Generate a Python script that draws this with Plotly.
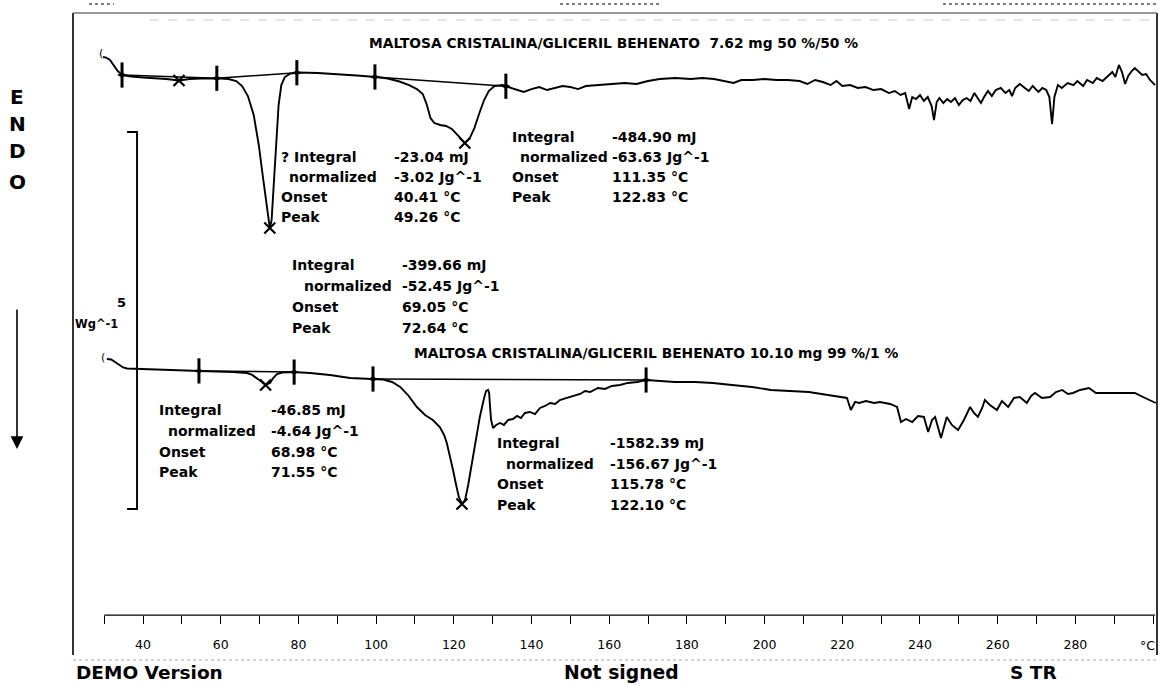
import numpy as np
import plotly.graph_objects as go

W, H = 1160, 685

# ---- DSC run 1: MALTOSA CRISTALINA/GLICERIL BEHENATO 7.62 mg 50 %/50 % ----
# temperature (°C) and heat flow (W/g, relative to its own start baseline)
top_temp = [29.7, 30.5, 31.5, 32.5, 33.5, 34.6, 37, 40, 43, 46,
            49.26, 52, 55, 58, 60, 62, 64, 65.5, 67, 68.5,
            69.8, 70.8, 71.6, 72.2, 72.64, 73.1, 73.6, 74.2, 74.9, 75.6,
            76.5, 78, 80, 85, 90, 95, 100, 103, 106, 108.5,
            110.5, 112, 113, 114, 115, 116.5, 118, 119.5, 121, 122.83,
            124, 125.3, 126.5, 127.8, 129, 130.5, 132.5, 134, 136, 138,
            140, 142, 144, 146, 148, 150, 152, 154, 157, 160,
            164, 167, 170, 173, 177, 181, 184, 187, 190, 192,
            194, 197, 200, 203, 206, 209, 211, 213, 215, 217,
            218.5, 220, 222, 224, 226, 228, 230, 232, 233.5, 235,
            236.2, 237.2, 238, 239, 240, 241, 242, 243, 243.6, 244.3,
            245, 246, 247, 248, 249, 250, 251, 252, 253, 254,
            255, 255.7, 256.5, 257.5, 258.5, 259.5, 260.8, 262, 263, 263.7,
            264.5, 265.7, 267, 268, 269, 270.5, 271.5, 272.5, 273.3, 274,
            274.6, 275.5, 276.5, 278, 279.5, 280.5, 282, 283, 284.5, 285.5,
            287, 288.5, 289.5, 290.3, 291.2, 292, 292.8, 293.6, 294.5, 295.3,
            296.3, 297.2, 298.2, 299.2, 300.5]
top_hf = [0.239, 0.232, 0.199, 0.133, 0.053, 0.0, -0.020, -0.033, -0.040, -0.053,
          -0.073, -0.053, -0.046, -0.040, -0.046, -0.053, -0.080, -0.146, -0.279, -0.531,
          -0.928, -1.326, -1.658, -1.897, -2.029, -1.923, -1.525, -0.928, -0.398, -0.133,
          -0.027, 0.020, 0.033, 0.027, 0.013, -0.007, -0.027, -0.046, -0.086, -0.133,
          -0.186, -0.252, -0.385, -0.570, -0.637, -0.663, -0.676, -0.716, -0.796, -0.902,
          -0.849, -0.703, -0.517, -0.332, -0.212, -0.146, -0.133, -0.159, -0.199, -0.225,
          -0.186, -0.159, -0.199, -0.172, -0.146, -0.159, -0.186, -0.146, -0.133, -0.119,
          -0.106, -0.119, -0.080, -0.053, -0.040, -0.053, -0.040, -0.053, -0.080, -0.106,
          -0.066, -0.066, -0.053, -0.066, -0.066, -0.080, -0.119, -0.066, -0.093, -0.133,
          -0.080, -0.146, -0.133, -0.172, -0.159, -0.199, -0.186, -0.239, -0.212, -0.265,
          -0.239, -0.451, -0.292, -0.318, -0.265, -0.345, -0.292, -0.411, -0.597, -0.358,
          -0.305, -0.371, -0.318, -0.358, -0.305, -0.398, -0.332, -0.305, -0.345, -0.239,
          -0.318, -0.371, -0.292, -0.212, -0.279, -0.199, -0.172, -0.239, -0.199, -0.279,
          -0.172, -0.119, -0.172, -0.212, -0.146, -0.225, -0.172, -0.199, -0.292, -0.650,
          -0.292, -0.133, -0.172, -0.106, -0.133, -0.080, -0.146, -0.066, -0.106, -0.040,
          -0.080, 0.0, 0.040, -0.027, 0.133, 0.040, -0.119, -0.013, 0.053, 0.093,
          0.040, 0.0, 0.013, -0.066, -0.133]
top_limits = [(34.6, 59.0), (59.0, 79.6), (99.7, 133.4)]
top_peaks = [49.26, 72.64, 122.83]

# ---- DSC run 2: MALTOSA CRISTALINA/GLICERIL BEHENATO 10.10 mg 99 %/1 % ----
bot_temp = [30.7, 31.8, 32.8, 33.8, 34.9, 35.9, 41.3, 48.2, 54.7, 63.2,
            66.8, 68.1, 69.3, 70.6, 71.55, 72.7, 73.5, 74.5, 75.8, 78.6,
            83, 88.1, 93.3, 97.1, 98.9, 101.8, 104.1, 106.2, 108.2, 110.5,
            112.6, 114.6, 116.4, 117.5, 118.2, 119, 119.8, 120.6, 121.3, 122.1,
            122.9, 123.7, 124.7, 125.7, 126.7, 127.8, 128.3, 128.8, 129.1, 129.3,
            129.6, 130.1, 130.9, 131.9, 132.9, 134, 135.2, 136.3, 137.3, 138.3,
            139.6, 140.9, 142.2, 143.5, 144.8, 146.1, 147.3, 149.1, 150.7, 152.5,
            153.8, 155.1, 157.1, 158.9, 160.7, 162.8, 164.8, 167.2, 169.5, 173.1,
            176.9, 182.1, 186.7, 191.6, 196.8, 201.6, 206.5, 211.4, 216.3, 219.4,
            221.2, 222.2, 223.3, 224.3, 226.1, 228.2, 229.7, 232.3, 234.1, 235.1,
            236.4, 238, 239.5, 241, 242.1, 243.1, 243.9, 245.4, 246.4, 246.9,
            248.2, 249.8, 251.3, 252.9, 253.9, 254.9, 256, 256.7, 258, 259.8,
            261.1, 262.7, 264.2, 265.7, 267.5, 268.6, 269.6, 271.4, 273.5, 275,
            276.6, 278.1, 279.4, 281.2, 283.5, 285.3, 288.9, 295.3, 297.4, 299.2,
            300.7]
bot_hf = [0.146, 0.139, 0.106, 0.066, 0.033, 0.020, 0.013, 0.0, -0.013, -0.027,
          -0.040, -0.066, -0.106, -0.159, -0.199, -0.172, -0.106, -0.053, -0.033, -0.027,
          -0.040, -0.066, -0.106, -0.119, -0.119, -0.126, -0.159, -0.225, -0.332, -0.491,
          -0.597, -0.663, -0.756, -0.862, -0.968, -1.127, -1.326, -1.525, -1.684, -1.777,
          -1.724, -1.525, -1.220, -0.928, -0.623, -0.371, -0.279, -0.265, -0.305, -0.464,
          -0.663, -0.769, -0.729, -0.703, -0.729, -0.663, -0.650, -0.610, -0.637, -0.570,
          -0.557, -0.584, -0.504, -0.477, -0.438, -0.451, -0.398, -0.371, -0.345, -0.318,
          -0.279, -0.292, -0.239, -0.252, -0.212, -0.199, -0.172, -0.159, -0.133, -0.146,
          -0.159, -0.159, -0.172, -0.199, -0.225, -0.265, -0.279, -0.292, -0.332, -0.358,
          -0.371, -0.531, -0.424, -0.438, -0.411, -0.438, -0.424, -0.451, -0.491, -0.690,
          -0.650, -0.690, -0.610, -0.623, -0.822, -0.663, -0.623, -0.902, -0.729, -0.623,
          -0.729, -0.796, -0.663, -0.491, -0.570, -0.623, -0.504, -0.398, -0.464, -0.531,
          -0.411, -0.491, -0.371, -0.358, -0.438, -0.345, -0.305, -0.371, -0.358, -0.292,
          -0.265, -0.318, -0.305, -0.265, -0.239, -0.305, -0.305, -0.305, -0.358, -0.398,
          -0.438]
bot_limits = [(54.4, 78.9), (99.2, 169.5)]
bot_peaks = [71.55, 122.10]

# vertical displacement of each curve on the page (W/g)
curve_offset = [0.0, -3.912]

# scale bar: 5 W/g
scale_wg = 5.0
scale_top = -0.756
scale_x = (35.9, 38.46)

# temperature axis
axis_ticks = list(range(30, 301, 10))
axis_labels = ["" if (t % 20 or t == 30 or t == 300) else str(t) for t in axis_ticks]
axis_unit = "°C"
axis_y = -7.162

X_RANGE = [3.19, 301.78]
Y_RANGE = [-8.090, 0.995]
FONT = "DejaVu Sans"

fig = go.Figure()


def add_run(temp, hf, offset, limits, peaks):
    temp = np.asarray(temp, float)
    hf = np.asarray(hf, float) + offset
    fig.add_trace(go.Scatter(x=temp, y=hf, mode="lines",
                             line=dict(color="black", width=1.9),
                             hoverinfo="skip", showlegend=False))
    # integration baselines and limit markers
    for a, b in limits:
        ya, yb = np.interp([a, b], temp, hf)
        fig.add_trace(go.Scatter(x=[a, b], y=[ya, yb], mode="lines",
                                 line=dict(color="black", width=1.5),
                                 hoverinfo="skip", showlegend=False))
    lims = sorted({v for pair in limits for v in pair})
    ylims = np.interp(lims, temp, hf)
    fig.add_trace(go.Scatter(x=lims, y=ylims, mode="markers",
                             marker=dict(symbol="line-ns", size=18,
                                         line=dict(color="black", width=3)),
                             hoverinfo="skip", showlegend=False))
    fig.add_trace(go.Scatter(x=lims, y=ylims, mode="markers",
                             marker=dict(symbol="diamond-wide", size=7, color="black"),
                             hoverinfo="skip", showlegend=False))
    fig.add_trace(go.Scatter(x=peaks, y=np.interp(peaks, temp, hf), mode="markers",
                             marker=dict(symbol="x-thin", size=11,
                                         line=dict(color="black", width=2.2)),
                             hoverinfo="skip", showlegend=False))


add_run(top_temp, top_hf, curve_offset[0], top_limits, top_peaks)
add_run(bot_temp, bot_hf, curve_offset[1], bot_limits, bot_peaks)

# scale bar
fig.add_trace(go.Scatter(
    x=[scale_x[0], scale_x[1], scale_x[1], scale_x[0]],
    y=[scale_top, scale_top, scale_top - scale_wg, scale_top - scale_wg],
    mode="lines", line=dict(color="black", width=1.9),
    hoverinfo="skip", showlegend=False))

# temperature axis line
fig.add_shape(type="line", x0=axis_ticks[0], x1=axis_ticks[-1] + 0.5,
              y0=axis_y, y1=axis_y, line=dict(color="black", width=1.3))


def P(x, y):
    return x / W, 1 - y / H


annotations = []


def text(x, y, s, size=14, color="black", anchor="left", weight="bold"):
    px, py = P(x, y)
    annotations.append(dict(x=px, y=py, xref="paper", yref="paper", text=s,
                            showarrow=False, xanchor=anchor, yanchor="middle",
                            font=dict(family=FONT, size=size, color=color,
                                      weight=weight)))


def block(xl, xn, xv, rows, first, values):
    labels = [first, "normalized", "Onset", "Peak"]
    for i, (lab, val) in enumerate(zip(labels, values)):
        text(xn if i == 1 else xl, rows[i], lab)
        text(xv, rows[i], val)


text(367, 43, "MALTOSA CRISTALINA/GLICERIL BEHENATO  7.62 mg 50 %/50 %", 13.8)
text(412, 353, "MALTOSA CRISTALINA/GLICERIL BEHENATO 10.10 mg 99 %/1 %", 13.8)

block(279, 287, 392, [157, 177, 197, 217], "? Integral",
      ["-23.04 mJ", "-3.02 Jg^-1", "40.41 °C", "49.26 °C"])
block(510, 518, 610, [137, 157, 177, 197], "Integral",
      ["-484.90 mJ", "-63.63 Jg^-1", "111.35 °C", "122.83 °C"])
block(290, 302, 400, [265, 286, 307, 328], "Integral",
      ["-399.66 mJ", "-52.45 Jg^-1", "69.05 °C", "72.64 °C"])
block(157, 166, 269, [410, 431, 452, 472], "Integral",
      ["-46.85 mJ", "-4.64 Jg^-1", "68.98 °C", "71.55 °C"])
block(495, 504, 608, [443, 464, 484, 505], "Integral",
      ["-1582.39 mJ", "-156.67 Jg^-1", "115.78 °C", "122.10 °C"])

# scale label
text(121, 302, "5", 13, anchor="center")
text(73, 324, "Wg^-1", 11.5)

# axis unit at the last tick
text(1147, 645, axis_unit, 12.5, anchor="center", weight="normal")

# ENDO
for ch, yy in zip("ENDO", [97, 124, 151, 182]):
    text(17, yy, ch, 20, anchor="center")

# start hooks of the curves
text(101, 53, "(", 11, anchor="center", weight="normal")
text(103, 357, "(", 11, anchor="center", weight="normal")

# footer
text(74, 672, "DEMO Version", 18.5)
text(562, 672, "Not signed", 18.8)
text(1008, 672, "S TR", 18.5)

# down arrow
ax1, ay1 = P(17, 449)
annotations.append(dict(x=ax1, y=ay1, xref="paper", yref="paper",
                        axref="pixel", ayref="pixel", ax=0, ay=-141,
                        text="", showarrow=True,
                        arrowhead=2, arrowsize=1.6, arrowwidth=1.6, arrowcolor="black"))

# page frame and clipped header remnants
shapes = [
    dict(type="line", xref="paper", yref="paper", x0=73 / W, x1=73 / W,
         y0=1 - 13 / H, y1=1 - 655 / H, line=dict(color="black", width=1.6)),
    dict(type="line", xref="paper", yref="paper", x0=1157 / W, x1=1157 / W,
         y0=1 - 13 / H, y1=1 - 655 / H, line=dict(color="black", width=1.6)),
    dict(type="line", xref="paper", yref="paper", x0=73 / W, x1=1157 / W,
         y0=1 - 13 / H, y1=1 - 13 / H, line=dict(color="#777", width=1.5)),
    dict(type="line", xref="paper", yref="paper", x0=150 / W, x1=1150 / W,
         y0=1 - 20 / H, y1=1 - 20 / H, line=dict(color="#ddd", width=1.5, dash="dash")),
    dict(type="line", xref="paper", yref="paper", x0=73 / W, x1=1157 / W,
         y0=1 - 660 / H, y1=1 - 660 / H, line=dict(color="#aaa", width=1, dash="dot")),
    dict(type="line", xref="paper", yref="paper", x0=89 / W, x1=114 / W,
         y0=1 - 4 / H, y1=1 - 4 / H, line=dict(color="#555", width=1.5, dash="dot")),
    dict(type="line", xref="paper", yref="paper", x0=560 / W, x1=662 / W,
         y0=1 - 4 / H, y1=1 - 4 / H, line=dict(color="#555", width=1.5, dash="dot")),
    dict(type="line", xref="paper", yref="paper", x0=943 / W, x1=1156 / W,
         y0=1 - 4 / H, y1=1 - 4 / H, line=dict(color="#555", width=1.5, dash="dot")),
]
for s in shapes:
    fig.add_shape(**s)

fig.update_layout(
    width=W, height=H, margin=dict(l=0, r=0, t=0, b=0),
    paper_bgcolor="white", plot_bgcolor="white",
    annotations=annotations,
    xaxis=dict(range=X_RANGE, showgrid=False, zeroline=False, showline=False,
               anchor="free", position=1 - 615 / H,
               tickmode="array", tickvals=axis_ticks, ticktext=axis_labels,
               ticks="outside", ticklen=8, tickwidth=1.4, tickcolor="black",
               ticklabelstandoff=10,
               tickfont=dict(family=FONT, size=12.5, color="black")),
    yaxis=dict(range=Y_RANGE, visible=False),
)

fig.write_html("out.html")
